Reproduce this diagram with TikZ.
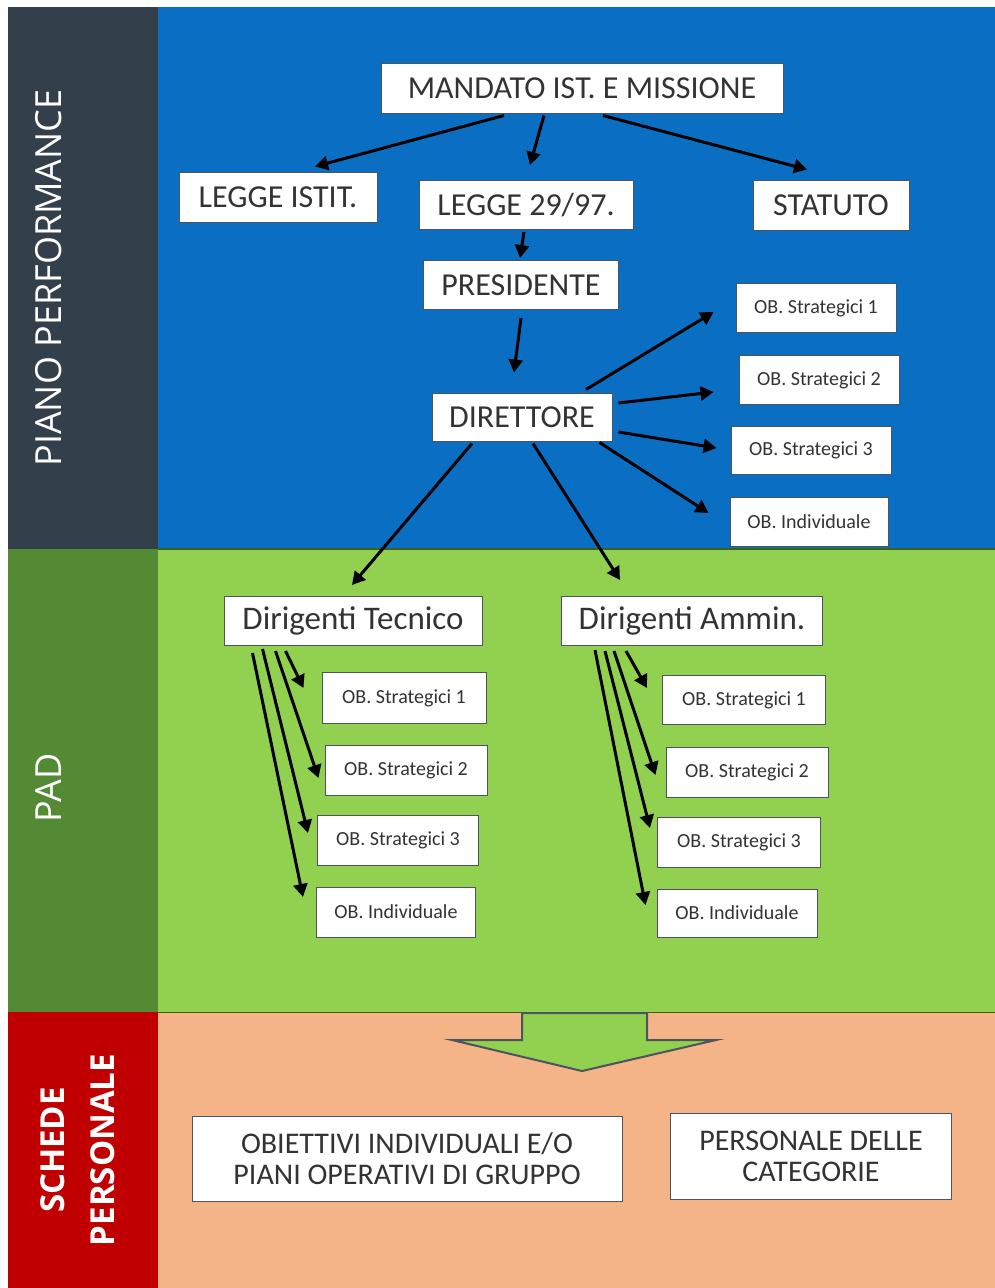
\documentclass[tikz,border=0pt]{standalone}
\usepackage{fontspec}
\setmainfont{Carlito}
\newfontfamily\lab{Open Sans}
\usetikzlibrary{calc,arrows.meta}
\definecolor{cblue}{HTML}{0A6FC2}
\definecolor{cslate}{HTML}{333F4A}
\definecolor{cgreen}{HTML}{92D050}
\definecolor{cdkgreen}{HTML}{538A33}
\definecolor{cpeach}{HTML}{F4B487}
\definecolor{cred}{HTML}{C00000}
\definecolor{ctext}{HTML}{333333}
\definecolor{cedge}{HTML}{4A5560}
\tikzset{
  box/.style={draw=cedge, line width=1pt, fill=white, inner sep=0pt, text=ctext, align=center},
  bigbox/.style={box, font=\fontsize{32}{34}\selectfont},
  dirbox/.style={box, font=\fontsize{33}{35}\selectfont},
  obbox/.style={box, font=\fontsize{20}{22}\selectfont, minimum width=161pt, minimum height=49pt},
  endbox/.style={box, font=\fontsize{30}{31}\selectfont},
  arr/.style={draw=black, line width=3pt, -{Triangle[length=13pt,width=14pt]}},
  side/.style={rotate=90, text=white, font=\lab\fontsize{36}{38}\selectfont, align=center}
}
\begin{document}
\begin{tikzpicture}[x=1pt,y=-1pt]
\useasboundingbox (0,0) rectangle (995,1288);
\fill[white] (0,0) rectangle (995,1288);
% bands
\fill[cslate] (8,7) rectangle (158,549);
\fill[cdkgreen] (8,549) rectangle (158,1012);
\fill[cred] (8,1012) rectangle (158,1288);
\fill[cblue] (158,7) rectangle (995,549);
\fill[cgreen] (158,549) rectangle (995,1012);
\fill[cpeach] (158,1012) rectangle (995,1288);
\draw[cdkgreen!70!black, line width=1.5pt] (158,549) -- (995,549);
\draw[cdkgreen!70!black, line width=1pt] (158,1012) -- (995,1012);
% side labels
\node[side] (lpp) at (49,278) {PIANO PERFORMANCE};
\node[side] (lpad) at (49,788) {PAD};
\node[side, font=\lab\bfseries\fontsize{33}{50}\selectfont] (lsp) at (78,1150) {SCHEDE\\PERSONALE};
% top nodes
\node[bigbox, minimum width=402pt, minimum height=50pt] (man) at (582,88) {MANDATO IST. E MISSIONE};
\node[bigbox, minimum width=198pt, minimum height=50pt] (li) at (278,197) {LEGGE ISTIT.};
\node[bigbox, minimum width=214pt, minimum height=49pt] (l29) at (526,205) {LEGGE 29/97.};
\node[bigbox, minimum width=156pt, minimum height=50pt] (sta) at (831,205) {STATUTO};
\node[bigbox, minimum width=195pt, minimum height=49pt] (pre) at (521,285) {PRESIDENTE};
\node[bigbox, minimum width=180pt, minimum height=48pt] (dir) at (522,417) {DIRETTORE};
\node[obbox, minimum width=160pt] (r1) at (816,308) {OB. Strategici 1};
\node[obbox, minimum width=160pt] (r2) at (819,380) {OB. Strategici 2};
\node[obbox, minimum width=160pt, minimum height=48pt] (r3) at (811,450) {OB. Strategici 3};
\node[obbox, minimum width=158pt] (r4) at (809,522) {OB. Individuale};
% middle
\node[dirbox, minimum width=258pt, minimum height=49pt] (dt) at (353,621) {Dirigenti Tecnico};
\node[obbox, minimum width=164pt, minimum height=51pt] (t1) at (404,698) {OB. Strategici 1};
\node[obbox, minimum width=162pt, minimum height=50pt] (t2) at (406,770) {OB. Strategici 2};
\node[obbox, minimum width=161pt, minimum height=50pt] (t3) at (398,840) {OB. Strategici 3};
\node[obbox, minimum width=159pt, minimum height=50pt] (t4) at (396,912) {OB. Individuale};
\node[dirbox, minimum width=261pt, minimum height=49pt] (da) at (692,621) {Dirigenti Ammin.};
\node[obbox, minimum width=163pt] (a1) at (744,700) {OB. Strategici 1};
\node[obbox, minimum width=162pt, minimum height=50pt] (a2) at (747,772) {OB. Strategici 2};
\node[obbox, minimum width=163pt, minimum height=50pt] (a3) at (739,842) {OB. Strategici 3};
\node[obbox, minimum width=160pt, minimum height=48pt] (a4) at (737,913) {OB. Individuale};
% bottom
\node[endbox, minimum width=430pt, minimum height=85pt] (ob) at (407,1159) {OBIETTIVI INDIVIDUALI E/O\\PIANI OPERATIVI DI GRUPPO};
\node[endbox, minimum width=281pt, minimum height=86pt] (per) at (811,1156) {PERSONALE DELLE\\CATEGORIE};
\draw[fill=cgreen, draw=cedge, line width=2pt, line join=miter]
  (522,1013) -- (647,1013) -- (647,1040) -- (716,1040) -- (582,1071) -- (452,1040) -- (522,1040) -- cycle;
% connectors
\draw[arr] ($(man.south)+(-78,2)$) -- ($(li.north)+(37,-5)$);
\draw[arr] ($(man.south)+(-38,2)$) -- ($(l29.north)+(4,-15)$);
\draw[arr] ($(man.south)+(21,2)$) -- ($(sta.north)+(-24,-10)$);
\draw[arr] ($(l29.south)+(-2,2)$) -- ($(pre.north)+(-1,-2)$);
\draw[arr] ($(pre.south)+(0,8)$) -- ($(dir.north)+(-8,-20)$);
\draw[arr] ($(dir.north)+(64,-3)$) -- ($(r1.west)+(-22,4)$);
\draw[arr] ($(dir.east)+(6,-14)$) -- ($(r2.west)+(-25,12)$);
\draw[arr] ($(dir.east)+(6,15)$) -- ($(r3.west)+(-14,-2)$);
\draw[arr] ($(dir.south east)+(-13,1)$) -- ($(r4.west)+(-21,-9)$);
\draw[arr] ($(dir.south)+(-50,2)$) -- ($(dt.north)+(-1,-11)$);
\draw[arr] ($(dir.south)+(11,2)$) -- ($(da.north)+(-72,-16)$);
\draw[arr] ($(dt.south west)+(62,5)$) -- ($(t1.west)+(-18,-10)$);
\draw[arr] ($(dt.south west)+(52,5)$) -- ($(t2.west)+(-6,8)$);
\draw[arr] ($(dt.south west)+(39,3)$) -- ($(t3.west)+(-9,-7)$);
\draw[arr] ($(dt.south west)+(29,7)$) -- ($(t4.west)+(-13,-15)$);
\draw[arr] ($(da.south west)+(65,5)$) -- ($(a1.west)+(-15,-12)$);
\draw[arr] ($(da.south west)+(53,5)$) -- ($(a2.west)+(-10,3)$);
\draw[arr] ($(da.south west)+(44,5)$) -- ($(a3.west)+(-7,-14)$);
\draw[arr] ($(da.south west)+(34,4)$) -- ($(a4.west)+(-11,-8)$);
\end{tikzpicture}
\end{document}
